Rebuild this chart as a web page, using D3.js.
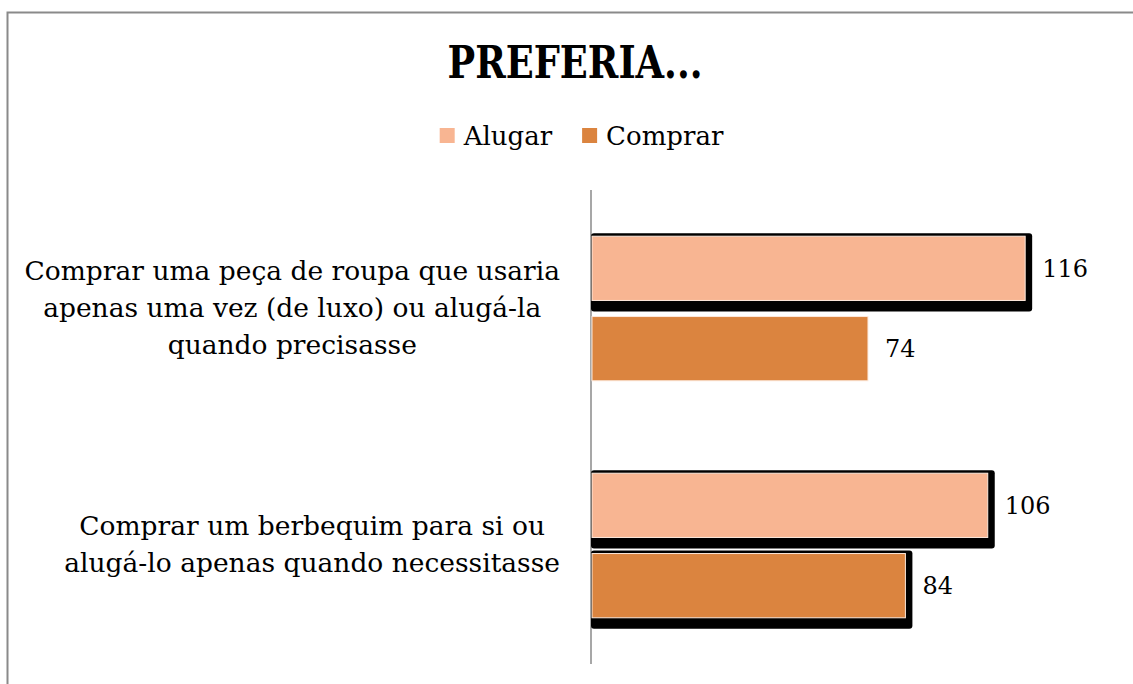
<!DOCTYPE html>
<html>
<head>
<meta charset="utf-8">
<script src="https://cdn.jsdelivr.net/npm/d3@7"></script>
<style>
  body { margin: 0; background: #fff; }
  svg { display: block; }
  text { font-family: "DejaVu Serif", "Liberation Serif", serif; fill: #000; }
</style>
</head>
<body>
<svg id="chart" width="1133" height="684"></svg>
<script>
// data
const categories = [
  "Comprar uma peça de roupa que usaria apenas uma vez (de luxo) ou alugá-la quando precisasse",
  "Comprar um berbequim para si ou alugá-lo apenas quando necessitasse"
];
// how the labels wrap in the original
const categoryLines = [
  ["Comprar uma peça de roupa que usaria", "apenas uma vez (de luxo) ou alugá-la", "quando precisasse"],
  ["Comprar um berbequim para si ou", "alugá-lo apenas quando necessitasse"]
];
const series = ["Alugar", "Comprar"];
const alugar = [116, 106];
const comprar = [74, 84];
const title = "PREFERIA...";

const colors = { "Alugar": "#F8B592", "Comprar": "#DB843F" };
// the 74 bar has no shadow in the original
const noShadow = new Set(["0-Comprar"]);

const width = 1133, height = 684;
const svg = d3.select("#chart");

// outer frame (only top and left edges are visible)
svg.append("path")
  .attr("d", "M7.5,684 V12.5 H1133")
  .attr("fill", "none")
  .attr("stroke", "#8a8a8a")
  .attr("stroke-width", 2);

const x = d3.scaleLinear().domain([0, 140]).range([591, 1115]);
const y0 = d3.scaleBand().domain(d3.range(categories.length)).range([190, 664]);
const bw = y0.bandwidth();
const y1 = d3.scaleBand().domain(series).range([bw * 0.195, bw * 0.805]).paddingInner(0.2);

const rows = categories.map((c, i) => ({
  i: i,
  values: series.map(s => ({ key: s, value: s === "Alugar" ? alugar[i] : comprar[i] }))
}));

// title
svg.append("text")
  .attr("x", 575)
  .attr("y", 78)
  .attr("text-anchor", "middle")
  .style("font-size", "44px")
  .style("font-weight", "bold")
  .attr("textLength", 255)
  .attr("lengthAdjust", "spacingAndGlyphs")
  .text(title);

// legend
const legend = svg.append("g");
let lx = 0;
series.forEach((s, i) => {
  const g = legend.append("g").attr("transform", `translate(${lx},0)`);
  g.append("rect")
    .attr("x", 0).attr("y", -17)
    .attr("width", 15).attr("height", 15)
    .attr("fill", colors[s]);
  const t = g.append("text")
    .attr("x", 24).attr("y", 0)
    .style("font-size", "26px")
    .text(s);
  lx += 24 + t.node().getComputedTextLength() + 30;
});
const legendW = lx - 30;
legend.attr("transform", `translate(${581.5 - legendW / 2},145)`);

// axis line
svg.append("line")
  .attr("x1", x(0)).attr("x2", x(0))
  .attr("y1", 190).attr("y2", 664)
  .attr("stroke", "#8a8a8a")
  .attr("stroke-width", 1.5);

// bars
const groups = svg.selectAll(".grp")
  .data(rows)
  .enter().append("g")
  .attr("class", "grp")
  .attr("transform", d => `translate(0,${y0(d.i)})`);

groups.each(function(row) {
  const g = d3.select(this);
  row.values.forEach(v => {
    const top = y1(v.key);
    const h = y1.bandwidth();
    const w = x(v.value) - x(0);
    if (!noShadow.has(row.i + "-" + v.key)) {
      g.append("rect")
        .attr("x", x(0))
        .attr("y", top - 3)
        .attr("width", w + 7)
        .attr("height", h + 14)
        .attr("rx", 3)
        .attr("fill", "#000");
    }
    g.append("rect")
      .attr("x", x(0) + 1)
      .attr("y", top)
      .attr("width", w - 1)
      .attr("height", h)
      .attr("fill", colors[v.key])
      .attr("stroke", "#fde9dc")
      .attr("stroke-width", 1);
    g.append("text")
      .attr("x", x(v.value) + 17)
      .attr("y", top + h / 2)
      .attr("dy", "0.36em")
      .style("font-size", "24px")
      .text(v.value);
  });
});

// category labels, widest line right aligned near the axis, lines centered
const lineH = 37;
categoryLines.forEach((lines, i) => {
  const cy = y0(i) + bw / 2;
  const t = svg.append("text")
    .attr("text-anchor", "middle")
    .style("font-size", "26.5px");
  const spans = lines.map((ln, k) =>
    t.append("tspan")
      .attr("y", cy + (k - (lines.length - 1) / 2) * lineH + 8)
      .text(ln)
  );
  const maxW = d3.max(spans, s => s.node().getComputedTextLength());
  spans.forEach(s => s.attr("x", 560 - maxW / 2));
});
</script>
</body>
</html>
